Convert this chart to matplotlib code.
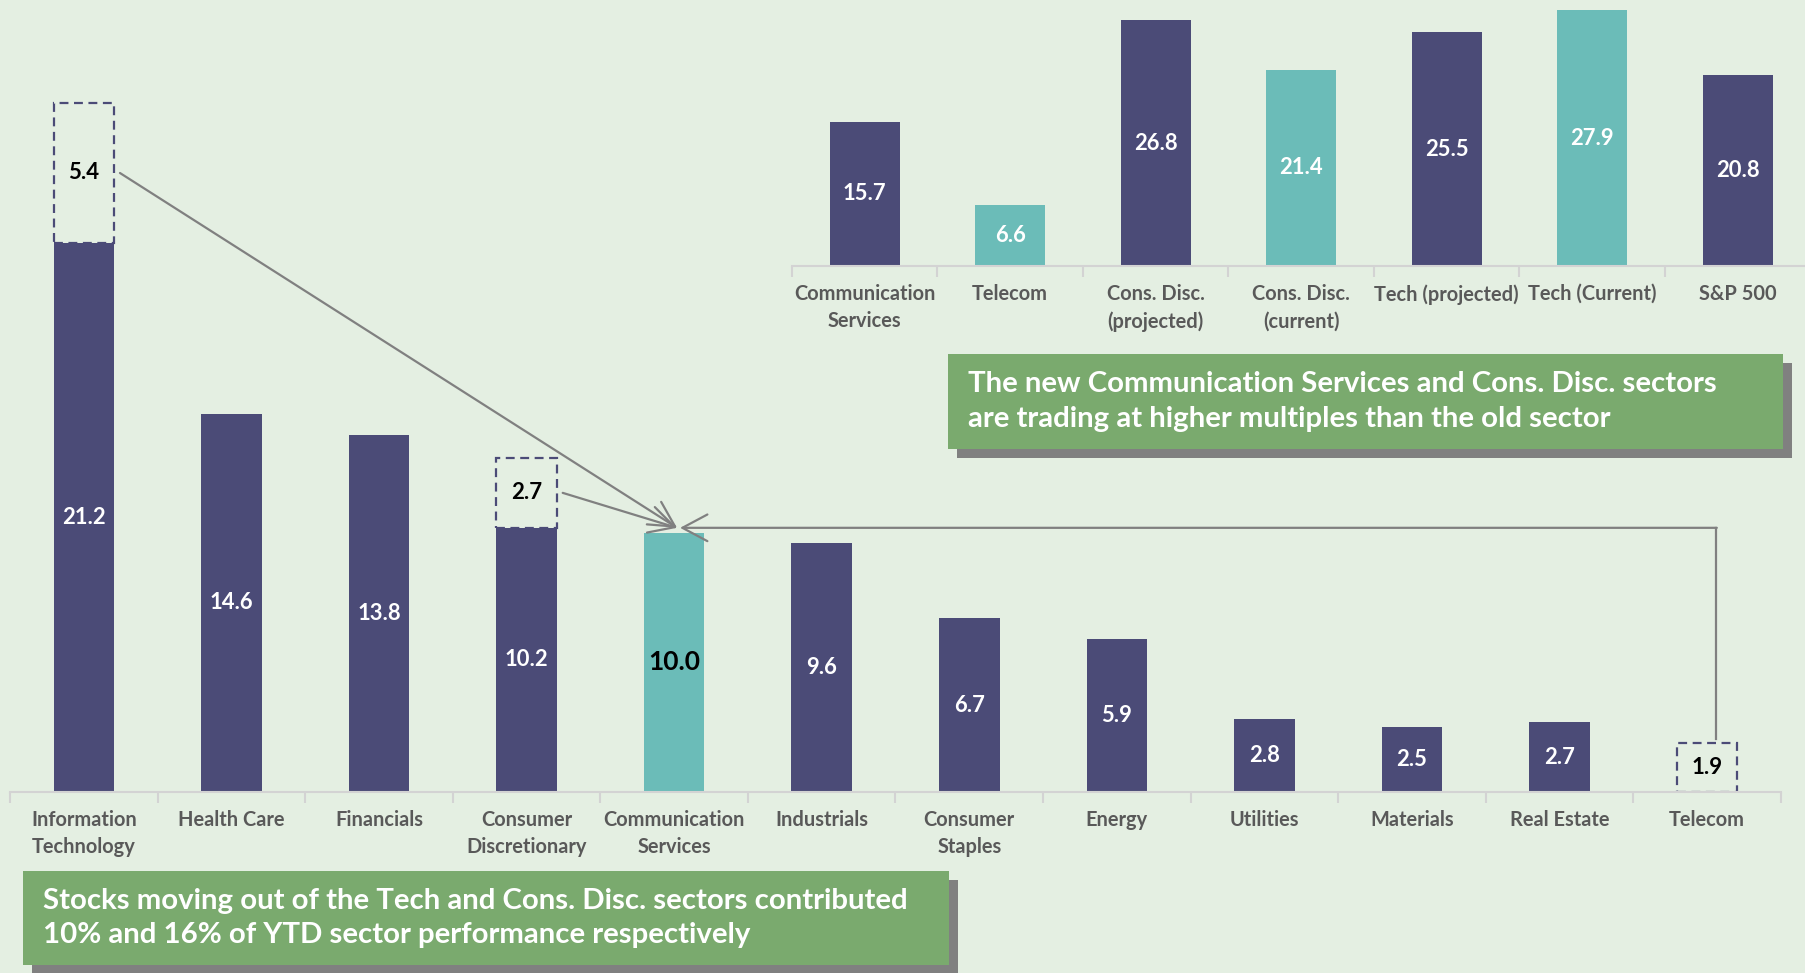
import numpy as np
import matplotlib.pyplot as plt
from matplotlib.patches import Rectangle

plt.rcParams['font.family'] = ['Lato', 'DejaVu Sans']

# main chart: P/E contribution by sector
sectors = ["Information\nTechnology", "Health Care", "Financials", "Consumer\nDiscretionary",
           "Communication\nServices", "Industrials", "Consumer\nStaples", "Energy",
           "Utilities", "Materials", "Real Estate", "Telecom"]
sector_vals = [21.2, 14.6, 13.8, 10.2, 10.0, 9.6, 6.7, 5.9, 2.8, 2.5, 2.7, 0]
moved_vals = [5.4, 0, 0, 2.7, 0, 0, 0, 0, 0, 0, 0, 1.9]
new_sector = 4

# inset: multiples
mult_cats = ["Communication\nServices", "Telecom", "Cons. Disc.\n(projected)", "Cons. Disc.\n(current)",
             "Tech (projected)", "Tech (Current)", "S&P 500"]
mult_vals = [15.7, 6.6, 26.8, 21.4, 25.5, 27.9, 20.8]
mult_new = [True, False, True, False, True, False, True]

NAVY = "#4B4B77"
TEAL = "#6BBCB8"
BG = "#E4EFE2"
GREEN = "#7AAA6E"
GRAY = "#808080"
TXT = "#595959"

fig = plt.figure(figsize=(18.06, 9.73), dpi=100)
fig.patch.set_facecolor(BG)


def style_axis(ax, labels):
    n = len(labels)
    ax.set_facecolor("none")
    for s in ["top", "right", "left"]:
        ax.spines[s].set_visible(False)
    ax.spines["bottom"].set_color("#D3D3D3")
    ax.spines["bottom"].set_linewidth(1.5)
    ax.set_yticks([])
    ax.set_xticks(range(n))
    ax.set_xticklabels(labels, fontsize=14.4, fontweight="bold", color=TXT, linespacing=1.45)
    ax.set_xticks(np.arange(-0.5, n), minor=True)
    ax.tick_params(axis="x", which="major", length=0, pad=13)
    ax.tick_params(axis="x", which="minor", length=8, color="#D3D3D3", width=1.5)


# ---- main chart
ax = fig.add_axes([10 / 1806, 1 - 792 / 973, 1771 / 1806, 777 / 973])
ax.set_xlim(-0.5, 11.5)
ax.set_ylim(0, 30)
w = 0.41
x = np.arange(len(sectors))
colors = [TEAL if i == new_sector else NAVY for i in x]
ax.bar(x, sector_vals, width=w, color=colors)
for i, (v, m) in enumerate(zip(sector_vals, moved_vals)):
    if m > 0:
        ax.bar(i, m, bottom=v, width=w, fill=False, edgecolor=NAVY,
               linestyle=(0, (4, 2.5)), linewidth=1.6)
        ax.text(i, v + m / 2, f"{m:.1f}", ha="center", va="center",
                fontsize=16, fontweight="bold", color="black")
    if v > 0:
        if i == new_sector:
            ax.text(i, v / 2, f"{v:.1f}", ha="center", va="center",
                    fontsize=19, fontweight="bold", color="black")
        else:
            ax.text(i, v / 2, f"{v:.1f}", ha="center", va="center",
                    fontsize=15.8, fontweight="bold", color="white")
style_axis(ax, sectors)

# arrows into the new sector
target = (new_sector + 0.02, sector_vals[new_sector] + 0.2)
head = dict(arrowstyle="->,head_length=0.75,head_width=0.4", color=GRAY, lw=1.6,
            mutation_scale=24, shrinkA=0, shrinkB=0)
for i in [0, 3]:
    start = (i + w / 2 + 0.04, sector_vals[i] + moved_vals[i] / 2)
    ax.annotate("", xy=target, xytext=start, arrowprops=head)
tel = 11
ax.plot([tel + 0.06, tel + 0.06], [moved_vals[tel] + 0.15, target[1]], color=GRAY, lw=1.6)
ax.annotate("", xy=(new_sector + 0.04, target[1]), xytext=(tel + 0.06 + 0.005, target[1]),
            arrowprops=head)

# ---- inset chart
ax2 = fig.add_axes([792 / 1806, 1 - 266 / 973, 1018.5 / 1806, 266 / 973])
ax2.set_xlim(-0.5, 6.5)
ax2.set_ylim(0, 29)
x2 = np.arange(len(mult_cats))
ax2.bar(x2, mult_vals, width=0.48, color=[NAVY if n else TEAL for n in mult_new])
for i, v in enumerate(mult_vals):
    ax2.text(i, v / 2, f"{v:.1f}", ha="center", va="center",
             fontsize=15.8, fontweight="bold", color="white")
style_axis(ax2, mult_cats)


# ---- green call-out boxes
def callout(x0, y0, x1, y1, lines):
    W, H = 1806, 973
    off = 9
    fig.patches.append(Rectangle(((x0 + off) / W, 1 - (y1 + off) / H), (x1 - x0) / W, (y1 - y0) / H,
                                 transform=fig.transFigure, facecolor=GRAY, edgecolor="none", zorder=1))
    fig.patches.append(Rectangle((x0 / W, 1 - y1 / H), (x1 - x0) / W, (y1 - y0) / H,
                                 transform=fig.transFigure, facecolor=GREEN, edgecolor="none", zorder=2))
    fig.text((x0 + 20) / W, 1 - (y0 + y1) / 2 / H, lines, ha="left", va="center",
             fontsize=21.2, fontweight="bold", color="white", linespacing=1.4, zorder=3)


callout(23, 871, 949, 965,
        "Stocks moving out of the Tech and Cons. Disc. sectors contributed\n"
        "10% and 16% of YTD sector performance respectively")
callout(948, 354, 1783, 449,
        "The new Communication Services and Cons. Disc. sectors\n"
        "are trading at higher multiples than the old sector")

fig.savefig("out.png", dpi=100, facecolor=BG)
